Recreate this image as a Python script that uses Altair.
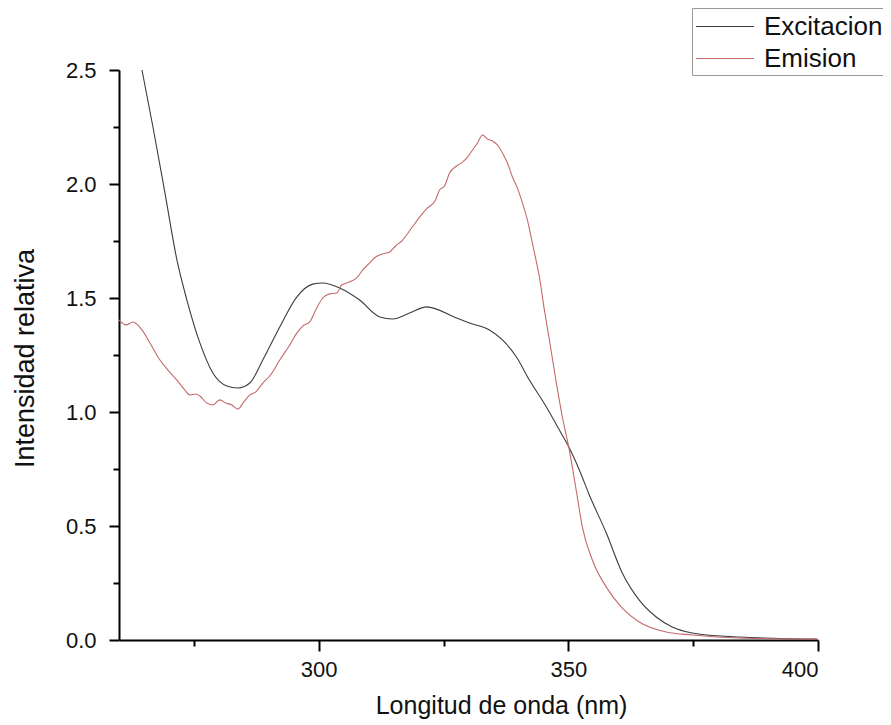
import altair as alt
import pandas as pd

# Excitacion (black curve)
exc_x = [264.6, 266.8, 269.2, 271.6, 273.6, 276.2, 278.8, 281.6, 283.8, 286.2, 288.8, 292.2,
         295.6, 298.8, 300.8, 304.2, 308.2, 312.2, 314.8, 318.2, 321.6, 327.6, 330.2, 334.2,
         336.8, 339.6, 342.2, 345.6, 348.2, 350.2, 352.2, 354.2, 357.6, 360.8, 364.2, 367.6,
         370.8, 374.8, 384.2, 399.8]
exc_y = [2.500, 2.250, 1.961, 1.667, 1.491, 1.303, 1.171, 1.114, 1.105, 1.127, 1.228, 1.373,
         1.504, 1.561, 1.566, 1.544, 1.491, 1.417, 1.408, 1.434, 1.461, 1.412, 1.390, 1.360,
         1.316, 1.241, 1.140, 1.022, 0.921, 0.842, 0.746, 0.636, 0.469, 0.294, 0.175, 0.101,
         0.057, 0.031, 0.013, 0.004]

# Emision (red curve)
emi_x = [260.0, 261.4, 262.8, 264.6, 266.2, 268.2, 269.8, 271.6, 273.2, 274.2, 275.4, 276.2,
         277.6, 278.8, 280.2, 281.4, 282.6, 283.8, 285.0, 286.2, 287.4, 288.8, 290.2, 292.2,
         294.2, 295.6, 296.8, 298.2, 299.6, 300.8, 302.2, 303.6, 304.6, 305.6, 306.6, 307.6,
         308.8, 310.2, 311.4, 312.8, 314.2, 315.4, 316.8, 318.6, 320.2, 321.8, 323.4, 324.2,
         325.2, 326.2, 327.6, 328.8, 329.8, 330.8, 331.8, 332.8, 333.8, 334.8, 335.8, 336.8,
         337.8, 338.8, 339.8, 340.8, 341.8, 342.8, 343.6, 344.2, 345.2, 346.2, 347.6, 348.8,
         350.2, 351.8, 352.8, 354.8, 357.6, 360.8, 364.2, 369.6, 374.8, 384.2, 399.8]
emi_y = [1.404, 1.382, 1.395, 1.360, 1.303, 1.228, 1.184, 1.140, 1.096, 1.075, 1.079, 1.070,
         1.039, 1.031, 1.053, 1.039, 1.031, 1.013, 1.044, 1.075, 1.088, 1.127, 1.158, 1.228,
         1.294, 1.346, 1.377, 1.395, 1.456, 1.500, 1.518, 1.522, 1.557, 1.566, 1.575, 1.588,
         1.623, 1.654, 1.680, 1.693, 1.702, 1.728, 1.754, 1.807, 1.855, 1.895, 1.930, 1.974,
         1.991, 2.048, 2.079, 2.096, 2.118, 2.149, 2.180, 2.215, 2.197, 2.189, 2.171, 2.136,
         2.092, 2.031, 1.982, 1.917, 1.842, 1.741, 1.658, 1.592, 1.447, 1.316, 1.127, 0.978,
         0.833, 0.627, 0.496, 0.351, 0.232, 0.140, 0.079, 0.035, 0.022, 0.009, 0.004]

series_names = ["Excitacion", "Emision"]
series_colors = ["#3c3c3c", "#c46a6a"]

x_ticks = [275, 300, 325, 350, 375, 400]
y_ticks = [0, 0.25, 0.5, 0.75, 1.0, 1.25, 1.5, 1.75, 2.0, 2.25, 2.5]

df = pd.concat([
    pd.DataFrame({"wl": exc_x, "val": exc_y, "serie": series_names[0], "idx": range(len(exc_x))}),
    pd.DataFrame({"wl": emi_x, "val": emi_y, "serie": series_names[1], "idx": range(len(emi_x))}),
])

FONT = "Liberation Sans"
X_MAJOR = "datum.value % 50 === 0"
Y_MAJOR = "round(datum.value * 4) % 2 === 0"

chart = alt.Chart(df).mark_line(strokeWidth=1.1, clip=True, interpolate="monotone").encode(
    x=alt.X("wl:Q",
            scale=alt.Scale(domain=[260, 400], nice=False, zero=False),
            axis=alt.Axis(title="Longitud de onda (nm)", values=x_ticks,
                          labelExpr=X_MAJOR + " ? datum.label : ''",
                          tickSize={"condition": {"test": X_MAJOR, "value": 11}, "value": 6},
                          labelPadding=8, labelFontSize=22, labelFont=FONT, labelColor="#111",
                          titleFontSize=25, titleFont=FONT, titleFontWeight="normal", titleColor="#111",
                          titleX=382, titleY=65, titleBaseline="middle", titleAlign="center",
                          domainColor="#000", domainWidth=2, tickColor="#000", tickWidth=2,
                          grid=False)),
    y=alt.Y("val:Q",
            scale=alt.Scale(domain=[0, 2.5], nice=False),
            axis=alt.Axis(title="Intensidad relativa", values=y_ticks, format=".1f",
                          labelExpr=Y_MAJOR + " ? datum.label : ''",
                          tickSize={"condition": {"test": Y_MAJOR, "value": 10}, "value": 6},
                          labelPadding=13, labelFontSize=22, labelFont=FONT, labelColor="#111",
                          titleFontSize=27, titleFont=FONT, titleFontWeight="normal", titleColor="#111",
                          titleAngle=-90, titleX=-94, titleY=288, titleBaseline="middle", titleAlign="center",
                          domainColor="#000", domainWidth=2, tickColor="#000", tickWidth=2,
                          grid=False)),
    color=alt.Color("serie:N",
                    scale=alt.Scale(domain=series_names, range=series_colors),
                    sort=series_names,
                    legend=alt.Legend(title=None, orient="none", legendX=573, legendY=-62,
                                      symbolType="M-1,0H3", symbolSize=841, symbolStrokeWidth=1.2,
                                      labelFontSize=26, labelFont=FONT, labelColor="#111",
                                      labelOffset=38, rowPadding=3, padding=3,
                                      strokeColor="#999", fillColor="white")),
    order="idx:Q",
).properties(
    width=699, height=570,
    background="white",
    autosize=alt.AutoSizeParams(type="none"),
    padding={"left": 111, "top": 62, "right": 65, "bottom": 80},
).configure_view(strokeWidth=0, stroke="transparent")

chart.save("out.html", embed_options={"renderer": "svg", "actions": False})
